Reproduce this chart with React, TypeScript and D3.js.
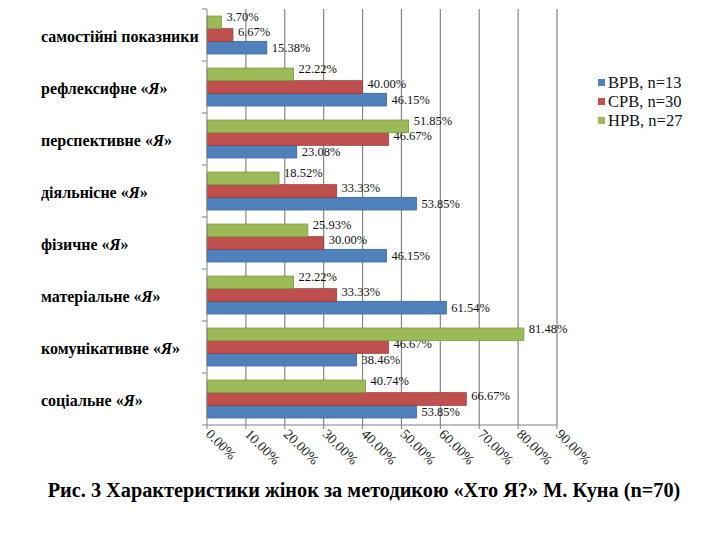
import React from "react";
import * as d3 from "d3";

const categories = [
  "самостійні показники",
  "рефлексифне",
  "перспективне",
  "діяльнісне",
  "фізичне",
  "матеріальне",
  "комунікативне",
  "соціальне",
];
const hasYa = [false, true, true, true, true, true, true, true];
const seriesNames = ["ВРВ, n=13", "СРВ, n=30", "НРВ, n=27"];
const vrv = [15.38, 46.15, 23.08, 53.85, 46.15, 61.54, 38.46, 53.85];
const srv = [6.67, 40.0, 46.67, 33.33, 30.0, 33.33, 46.67, 66.67];
const nrv = [3.7, 22.22, 51.85, 18.52, 25.93, 22.22, 81.48, 40.74];
const xTicks = [0, 10, 20, 30, 40, 50, 60, 70, 80, 90];
const colors = ["#4F81BD", "#C0504D", "#9BBB59"];
const strokes = ["#3A6595", "#98403D", "#7A9645"];
const caption = "Рис. 3 Характеристики жінок за методикою «Хто Я?» М. Куна (n=70)";

const serif = "Liberation Serif, serif";
const fs = (size: number, extra: React.CSSProperties = {}): React.CSSProperties => ({ fontFamily: serif, fontSize: size + "px", ...extra });

export default function App() {
  const left = 207, right = 557, top = 9, bottom = 425;
  const x = d3.scaleLinear().domain([0, 90]).range([left, right]);
  const y = d3.scaleBand<number>().domain(d3.range(categories.length)).range([top, bottom]).paddingInner(0.27).paddingOuter(0.135);
  const inner = d3.scaleBand<number>().domain([2, 1, 0]).range([0, y.bandwidth()]);
  const series = [vrv, srv, nrv];
  const labelShift = [0, -3, -5];
  const step = (bottom - top) / categories.length;

  return (
    <svg width={720} height={540} style={{ position: "absolute", left: 0, top: 0, background: "#fff", fontFamily: serif }}>
      {xTicks.slice(1).map((t) => (
        <line key={"g" + t} x1={x(t)} x2={x(t)} y1={top} y2={bottom} stroke="#858585" strokeWidth={1.2} />
      ))}
      {categories.map((c, i) =>
        series.map((s, k) => {
          const yy = (y(i) as number) + (inner(k) as number);
          return (
            <g key={c + k}>
              <rect x={x(0)} y={yy} width={x(s[i]) - x(0)} height={inner.bandwidth()} fill={colors[k]} stroke={strokes[k]} strokeWidth={0.8} />
              <text x={x(s[i]) + 5} y={yy + inner.bandwidth() / 2 + labelShift[k] + 1} dominantBaseline="middle" style={fs(12.5)} fill="#111">
                {s[i].toFixed(2) + "%"}
              </text>
            </g>
          );
        })
      )}
      <line x1={left} x2={left} y1={top} y2={bottom} stroke="#808080" strokeWidth={1} />
      <line x1={left} x2={right} y1={bottom} y2={bottom} stroke="#808080" strokeWidth={1.2} />
      {d3.range(categories.length + 1).map((j) => (
        <line key={"yt" + j} x1={left - 5} x2={left} y1={top + j * step} y2={top + j * step} stroke="#808080" />
      ))}
      {xTicks.map((t) => (
        <g key={"xt" + t}>
          <line x1={x(t)} x2={x(t)} y1={bottom} y2={bottom + 4} stroke="#808080" />
          <text transform={`translate(${x(t) - 2},${bottom + 10}) rotate(45)`} style={fs(14)} fill="#222">
            {t.toFixed(2) + "%"}
          </text>
        </g>
      ))}
      {categories.map((c, i) => (
        <text key={"c" + i} x={41} y={top + (i + 0.5) * step + 3} dominantBaseline="middle" style={fs(16, { fontWeight: "bold" })} fill="#000">
          {c}
          {hasYa[i] ? (
            <>
              {" «"}
              <tspan style={{ fontStyle: "italic" }}>Я</tspan>
              {"»"}
            </>
          ) : null}
        </text>
      ))}
      {seriesNames.map((n, k) => (
        <g key={"l" + k} transform={`translate(598,${83 + k * 19})`}>
          <rect x={0} y={-4} width={7} height={7} fill={colors[k]} />
          <text x={10} y={1} dominantBaseline="middle" style={fs(16.5)} fill="#111">
            {n}
          </text>
        </g>
      ))}
      <text x={364} y={492} textAnchor="middle" dominantBaseline="middle" style={fs(20.3, { fontWeight: "bold" })} fill="#000">
        {caption}
      </text>
    </svg>
  );
}
